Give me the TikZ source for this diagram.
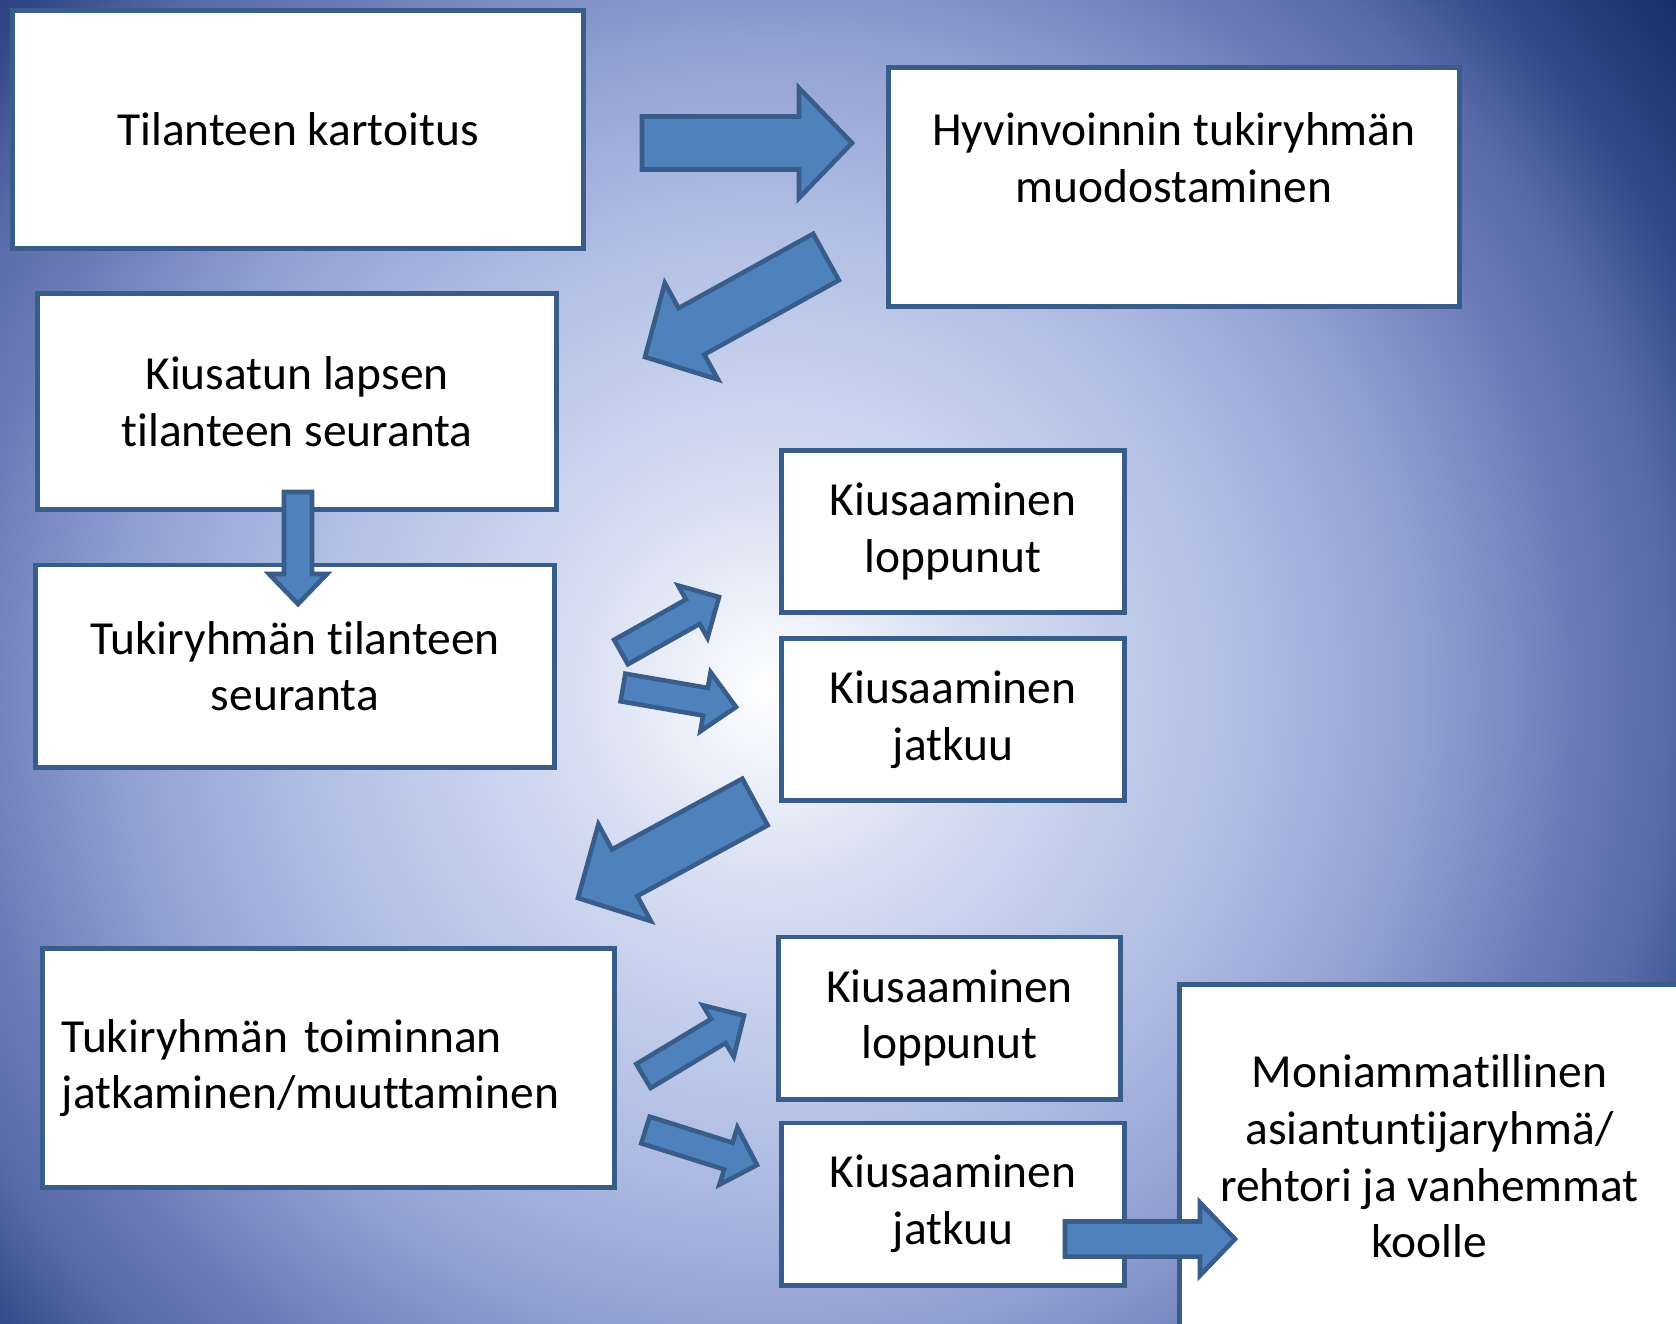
\documentclass[tikz,border=0pt]{standalone}
\usepackage{fontspec}
\setmainfont{Carlito}[Ligatures=NoCommon]
\usepackage{tikz}
\usetikzlibrary{calc,positioning}

\definecolor{boxline}{RGB}{56,93,138}
\definecolor{arrfill}{RGB}{79,129,189}
\definecolor{bgA}{RGB}{215,222,242}
\definecolor{bgB}{RGB}{176,190,228}
\definecolor{bgC}{RGB}{145,160,210}
\definecolor{bgD}{RGB}{108,124,184}
\definecolor{bgE}{RGB}{88,106,168}
\definecolor{bgF}{RGB}{52,73,138}
\definecolor{bgG}{RGB}{26,45,107}

% radial background, real size (1px = 0.01cm)
\pgfdeclareradialshading{slidebg}{\pgfpoint{0bp}{0bp}}{%
  color(0bp)=(white); color(56.7bp)=(bgA); color(133.2bp)=(bgB);
  color(184.3bp)=(bgC); color(226.8bp)=(bgD); color(255.1bp)=(bgE);
  color(283.5bp)=(bgF); color(323.1bp)=(bgG); color(340.2bp)=(bgG)}

% block arrow: tail, tip, shaft half width, head half width, head length
\newcommand{\blockarrow}[5]{%
  \coordinate (#2-base) at ($(#2)!#5!(#1)$);
  \draw[blockarr] ($(#1)!#3!90:(#2)$) -- ($(#2-base)!#3!90:(#2)$)
    -- ($(#2-base)!#4!90:(#2)$) -- (#2)
    -- ($(#2-base)!#4!-90:(#2)$) -- ($(#2-base)!#3!-90:(#2)$)
    -- ($(#1)!#3!-90:(#2)$) -- cycle;
}

\begin{document}
\begin{tikzpicture}[x=0.01cm, y=-0.01cm,
    box/.style={draw=boxline, line width=1.4pt, fill=white, rectangle,
      inner sep=0pt, align=center, font=\fontsize{13.5}{16.1}\selectfont},
    bigbox/.style={box, minimum width=5.7cm, minimum height=2.38cm},
    smallbox/.style={box, minimum width=3.42cm, minimum height=1.62cm},
    blockarr/.style={draw=boxline, fill=arrfill, line width=1.3pt}]
    % Background
    \useasboundingbox (0,0) rectangle (1676,1323);
    \begin{scope}
        \clip (0,0) rectangle (1676,1323);
        \node[inner sep=0pt] (glow) at (770,690) {\pgfuseshading{slidebg}};
    \end{scope}

    % Steps
    \node[bigbox] (kartoitus) at (298,129.5) {Tilanteen kartoitus};
    \node[bigbox, text height=1.34cm, text depth=1.04cm] (muodostus) at (1174,187)
        {Hyvinvoinnin tukiryhmän\\muodostaminen};
    \node[box, minimum width=5.18cm, minimum height=2.15cm] (lapsi) at (297,401.5)
        {Kiusatun lapsen\\tilanteen seuranta};
    \node[box, minimum width=5.18cm, minimum height=2.02cm] (ryhma) at (295,666)
        {Tukiryhmän tilanteen\\seuranta};

    % First check
    \node[smallbox] (loppu1) at (953,531.5) {Kiusaaminen\\loppunut};
    \node[smallbox, below=0.21cm of loppu1] (jatkuu1) {Kiusaaminen\\jatkuu};

    % Continuing
    \node[bigbox, minimum width=5.71cm, text width=5.33cm, inner xsep=0.19cm, align=left]
        (toiminta) at (328.5,1068) {Tukiryhmän toiminnan\\jatkaminen/muuttaminen};
    \node[smallbox] (loppu2) at (949.5,1018) {Kiusaaminen\\loppunut};
    \node[smallbox] (jatkuu2) at (953,1204) {Kiusaaminen\\jatkuu};
    \node[box, minimum width=4.99cm, minimum height=3.43cm] (koolle) at (1429.5,1156.5)
        {Moniammatillinen\\asiantuntijaryhmä/\\rehtori ja vanhemmat\\koolle};

    % Arrow ends
    \coordinate (a1t) at (642,143);   \coordinate (a1h) at (852,143);
    \coordinate (a2t) at (826,257);   \coordinate (a2h) at (645,357);
    \coordinate (a3t) at (298,492);   \coordinate (a3h) at (298,604);
    \coordinate (a4t) at (621,652);   \coordinate (a4h) at (719,597);
    \coordinate (a5t) at (623,687.5); \coordinate (a5h) at (736,707);
    \coordinate (a6t) at (755,802);   \coordinate (a6h) at (578,898);
    \coordinate (a7t) at (643.5,1076); \coordinate (a7h) at (744,1015.5);
    \coordinate (a8t) at (645.5,1130); \coordinate (a8h) at (757,1165);
    \coordinate (a9t) at (1065,1239); \coordinate (a9h) at (1235,1239);

    % Arrows
    \blockarrow{a1t}{a1h}{0.265cm}{0.55cm}{0.53cm}
    \blockarrow{a2t}{a2h}{0.265cm}{0.55cm}{0.53cm}
    \blockarrow{a3t}{a3h}{0.14cm}{0.29cm}{0.30cm}
    \blockarrow{a4t}{a4h}{0.14cm}{0.30cm}{0.30cm}
    \blockarrow{a5t}{a5h}{0.14cm}{0.30cm}{0.31cm}
    \blockarrow{a6t}{a6h}{0.265cm}{0.55cm}{0.53cm}
    \blockarrow{a7t}{a7h}{0.14cm}{0.30cm}{0.30cm}
    \blockarrow{a8t}{a8h}{0.14cm}{0.30cm}{0.30cm}
    \blockarrow{a9t}{a9h}{0.175cm}{0.365cm}{0.35cm}
\end{tikzpicture}
\end{document}
